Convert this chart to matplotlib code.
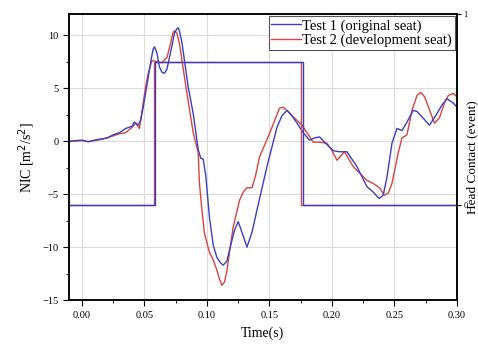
import matplotlib
matplotlib.use("Agg")
import matplotlib.pyplot as plt
from matplotlib.ticker import MultipleLocator

plt.rcParams['font.family'] = ['Liberation Serif', 'DejaVu Serif']

# Test 1 (original seat) NIC trace
t1 = [-0.010, -0.005, 0.000, 0.005, 0.010, 0.015, 0.020, 0.025, 0.030, 0.035,
      0.040, 0.042, 0.045, 0.047, 0.049, 0.051, 0.053, 0.055, 0.057, 0.058,
      0.060, 0.062, 0.064, 0.066, 0.068, 0.070, 0.072, 0.074, 0.076, 0.077,
      0.078, 0.080, 0.082, 0.085, 0.089, 0.093, 0.095, 0.097, 0.099, 0.102,
      0.105, 0.108, 0.111, 0.113, 0.116, 0.118, 0.122, 0.125, 0.128, 0.132,
      0.136, 0.140, 0.148, 0.156, 0.160, 0.164, 0.168, 0.172, 0.177, 0.182,
      0.186, 0.190, 0.195, 0.201, 0.206, 0.212, 0.216, 0.220, 0.228, 0.233,
      0.236, 0.238, 0.241, 0.244, 0.248, 0.252, 0.256, 0.260, 0.265, 0.268,
      0.272, 0.278, 0.284, 0.288, 0.292, 0.297, 0.300]
nic1 = [0.0, 0.05, 0.1, -0.05, 0.1, 0.2, 0.3, 0.6, 0.8, 1.2,
        1.4, 1.8, 1.5, 2.0, 3.2, 4.6, 6.0, 7.5, 8.7, 8.9,
        8.3, 7.0, 6.5, 6.4, 6.8, 7.9, 9.0, 10.2, 10.6, 10.7,
        10.4, 9.3, 7.6, 5.1, 2.6, -0.8, -1.6, -1.7, -3.2, -7.2,
        -9.8, -11.0, -11.5, -11.7, -11.3, -10.3, -8.4, -7.6, -8.6, -10.0,
        -8.6, -6.5, -2.4, 1.3, 2.4, 2.9, 2.4, 1.7, 0.8, 0.1,
        0.3, 0.4, -0.2, -0.9, -1.0, -1.0, -1.7, -2.4, -4.3, -4.8,
        -5.2, -5.4, -5.1, -3.4, -0.2, 1.2, 1.0, 1.8, 2.9, 2.8,
        2.3, 1.5, 2.6, 3.4, 4.0, 3.6, 3.2]

# Test 2 (development seat) NIC trace
t2 = [-0.010, -0.005, 0.000, 0.005, 0.010, 0.015, 0.020, 0.025, 0.030, 0.035,
      0.040, 0.043, 0.046, 0.049, 0.051, 0.053, 0.056, 0.060, 0.064, 0.068,
      0.070, 0.073, 0.074, 0.076, 0.078, 0.080, 0.084, 0.089, 0.093, 0.094,
      0.096, 0.098, 0.102, 0.105, 0.108, 0.110, 0.112, 0.114, 0.116, 0.118,
      0.121, 0.126, 0.129, 0.132, 0.136, 0.139, 0.142, 0.150, 0.158, 0.161,
      0.165, 0.169, 0.176, 0.180, 0.185, 0.190, 0.196, 0.200, 0.204, 0.210,
      0.217, 0.222, 0.228, 0.233, 0.238, 0.242, 0.245, 0.248, 0.253, 0.256,
      0.260, 0.264, 0.268, 0.271, 0.274, 0.276, 0.282, 0.286, 0.290, 0.293,
      0.297, 0.300]
nic2 = [0.0, 0.0, 0.05, -0.05, 0.05, 0.15, 0.3, 0.5, 0.7, 0.8,
        1.3, 1.7, 1.2, 3.6, 5.2, 6.4, 7.6, 7.5, 7.4, 7.9,
        8.8, 10.3, 10.4, 10.2, 9.2, 7.6, 4.5, 0.8, -1.1, -4.0,
        -6.5, -8.7, -10.5, -11.2, -12.2, -13.0, -13.6, -13.3, -12.2, -10.5,
        -8.1, -5.6, -4.8, -4.4, -4.4, -3.2, -1.5, 0.7, 3.1, 3.2,
        2.8, 2.3, 1.5, 0.8, -0.1, -0.1, -0.2, -0.9, -1.8, -1.0,
        -2.4, -3.0, -3.7, -4.0, -4.4, -5.1, -4.9, -4.0, -1.1, 0.3,
        0.6, 2.9, 4.3, 4.6, 4.2, 3.6, 1.7, 2.2, 3.6, 4.3,
        4.5, 4.2]

# head contact events (0/1 scale, plotted at 0.75 when active)
contact_t1 = [-0.010, 0.0585, 0.0585, 0.1765, 0.1765, 0.300]
contact1 = [0, 0, 0.75, 0.75, 0, 0]
contact_t2 = [-0.010, 0.0575, 0.0575, 0.1755, 0.1755, 0.300]
contact2 = [0, 0, 0.75, 0.75, 0, 0]

blue = '#3a3fc2'
red = '#d9443f'

fig = plt.figure(figsize=(4.78, 3.49), dpi=100)
ax = fig.add_axes([0.144, 0.140, 0.812, 0.820])
ax2 = ax.twinx()

ax2.plot(contact_t2, contact2, color=red, lw=1.0)
ax2.plot(contact_t1, contact1, color=blue, lw=1.0)
ax2.set_ylim(-0.5, 1.0)
ax2.set_yticks([0, 1])
ax2.tick_params(axis='y', labelsize=6, direction='out', length=3, pad=1.5)
ax2.set_ylabel('Head Contact (event)', fontsize=9.5, labelpad=-0.5)

ax.plot(t2, nic2, color=red, lw=1.0, label='Test 2 (development seat)')
ax.plot(t1, nic1, color=blue, lw=1.0, label='Test 1 (original seat)')

ax.set_xlim(-0.0105, 0.30)
ax.set_ylim(-15, 12)
ax.xaxis.set_major_locator(MultipleLocator(0.05))
ax.xaxis.set_minor_locator(MultipleLocator(0.025))
ax.yaxis.set_major_locator(MultipleLocator(5))
ax.yaxis.set_minor_locator(MultipleLocator(2.5))
ax.xaxis.set_major_formatter(plt.FuncFormatter(lambda v, p: f'{v:.2f}'))
ax.tick_params(which='both', direction='out', labelsize=7.5)
ax.tick_params(which='major', length=4)
ax.tick_params(which='minor', length=2.5)
ax.grid(True, which='major', color='#dcdcdc', lw=0.8)
ax.set_axisbelow(True)
for sp in list(ax.spines.values()) + list(ax2.spines.values()):
    sp.set_linewidth(1.1)

ax.set_xlabel('Time(s)', fontsize=10, labelpad=5)
ax.set_ylabel('NIC [m$^2$/s$^2$]', fontsize=10)

handles, labels = ax.get_legend_handles_labels()
leg = ax2.legend(handles[::-1], labels[::-1], loc='upper right', fontsize=10.5,
                 handlelength=2.0, handletextpad=0.1, borderpad=0.2,
                 labelspacing=0.1, borderaxespad=0.15, fancybox=False,
                 framealpha=1, edgecolor='#555555')
leg.get_frame().set_linewidth(0.8)

fig.savefig('out.png', dpi=100)
